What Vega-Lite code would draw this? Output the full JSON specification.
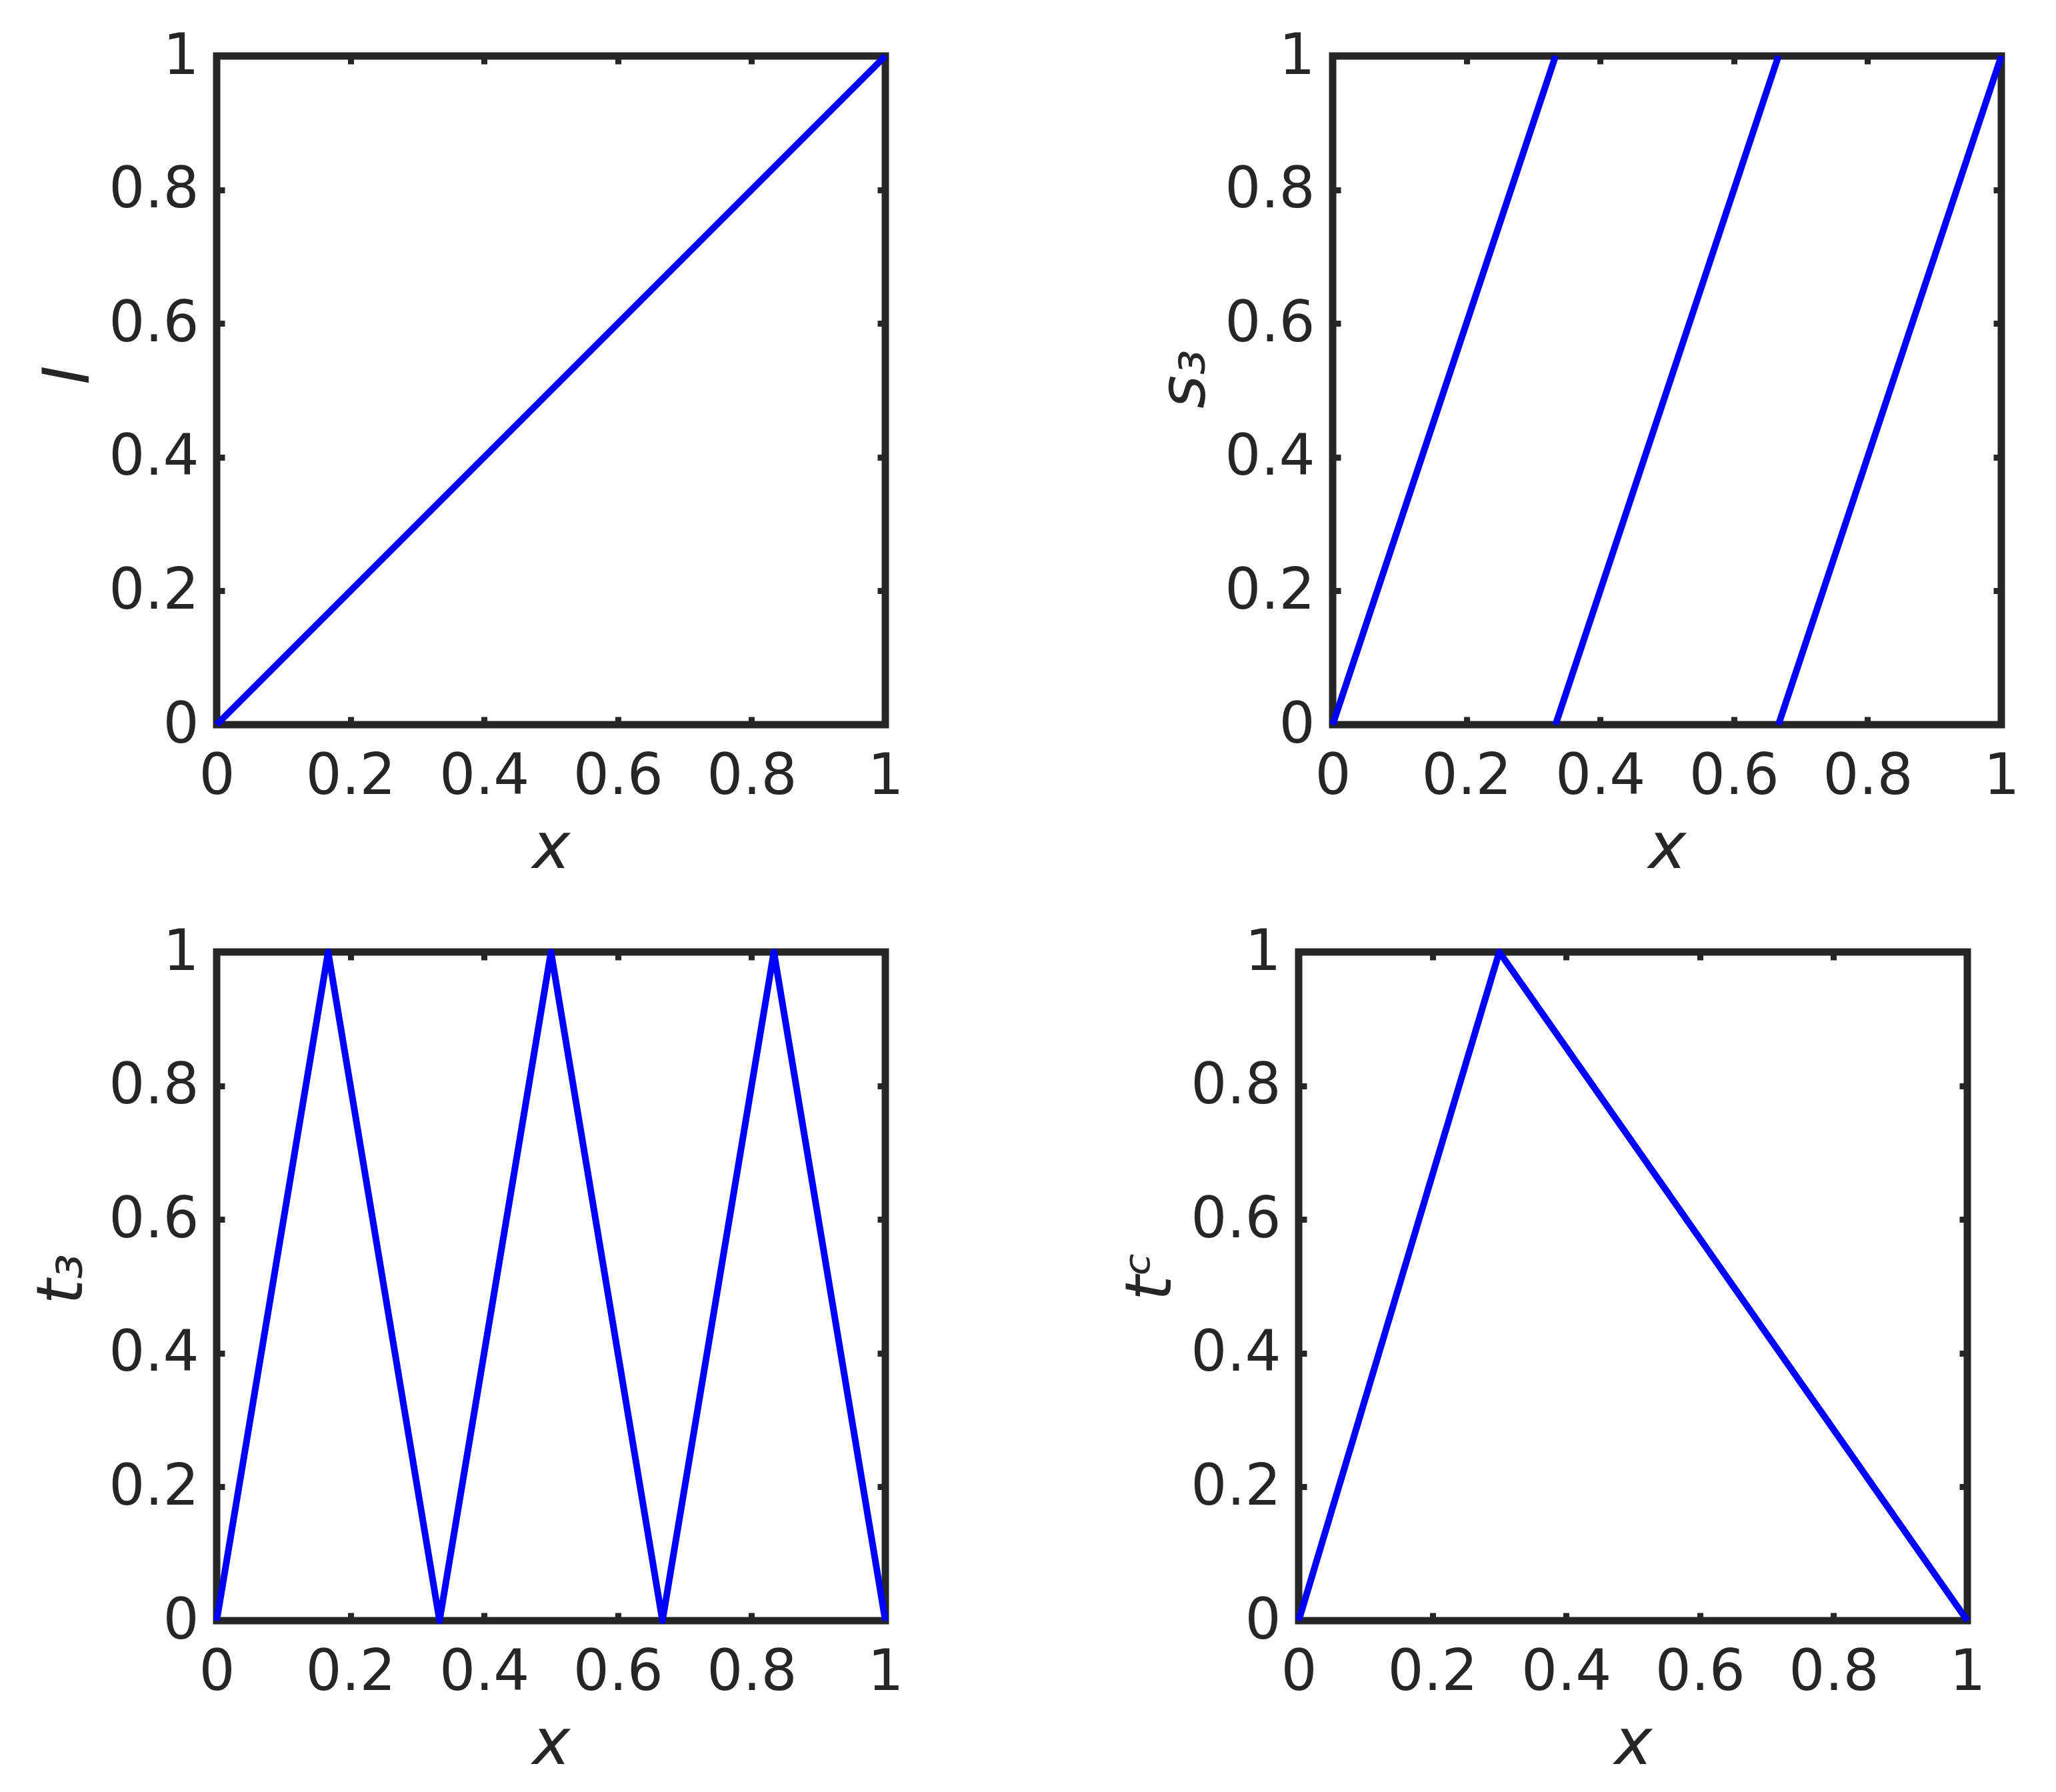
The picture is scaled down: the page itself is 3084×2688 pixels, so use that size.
{
  "$schema": "https://vega.github.io/schema/vega-lite/v6.json",
  "background": "white",
  "autosize": {"type": "pad"},
  "padding": {"left": 40, "top": 36, "right": 20, "bottom": 20},
  "datasets": {
    "identity": [{"x": 0, "y": 0, "seg": "a"}, {"x": 1, "y": 1, "seg": "a"}],
    "saw": [
      {"x": 0, "y": 0, "seg": "a"}, {"x": 0.3333, "y": 1, "seg": "a"},
      {"x": 0.3333, "y": 0, "seg": "b"}, {"x": 0.6667, "y": 1, "seg": "b"},
      {"x": 0.6667, "y": 0, "seg": "c"}, {"x": 1, "y": 1, "seg": "c"}
    ],
    "tent3": [
      {"x": 0, "y": 0, "seg": "a"}, {"x": 0.1667, "y": 1, "seg": "a"},
      {"x": 0.3333, "y": 0, "seg": "a"}, {"x": 0.5, "y": 1, "seg": "a"},
      {"x": 0.6667, "y": 0, "seg": "a"}, {"x": 0.8333, "y": 1, "seg": "a"},
      {"x": 1, "y": 0, "seg": "a"}
    ],
    "tentc": [
      {"x": 0, "y": 0, "seg": "a"}, {"x": 0.3, "y": 1, "seg": "a"}, {"x": 1, "y": 0, "seg": "a"}
    ]
  },
  "config": {
    "font": "DejaVu Sans",
    "view": {"stroke": "#262626", "strokeWidth": 11},
    "axis": {
      "grid": false,
      "domain": false,
      "labelFont": "DejaVu Sans",
      "labelFontSize": 85,
      "labelColor": "#262626",
      "labelFlush": false,
      "labelOverlap": false,
      "tickColor": "#262626",
      "tickWidth": 9,
      "tickSize": -12,
      "titleFont": "DejaVu Sans",
      "titleFontSize": 96,
      "titleFontStyle": "italic",
      "titleFontWeight": "normal",
      "titleColor": "#262626"
    },
    "axisX": {"labelPadding": 48, "titlePadding": 18},
    "axisY": {"labelPadding": 39, "titlePadding": 10},
    "line": {"color": "#0000ff", "strokeWidth": 10, "strokeJoin": "round"}
  },
  "columns": 1,
  "align": "none",
  "spacing": 54,
  "concat": [
    {
      "spacing": 363,
      "hconcat": [
        {
          "width": 1003, "height": 1003,
          "data": {"name": "identity"},
          "resolve": {"axis": {"x": "independent", "y": "independent"}},
          "layer": [
            {
              "mark": "line",
              "encoding": {
                "x": {"field": "x", "type": "quantitative", "scale": {"domain": [0, 1], "nice": false}, "axis": {"orient": "bottom", "title": "x", "values": [0, 0.2, 0.4, 0.6, 0.8, 1], "format": "~g"}},
                "y": {"field": "y", "type": "quantitative", "scale": {"domain": [0, 1], "nice": false}, "axis": {"orient": "left", "title": "I", "titleY": 478, "values": [0, 0.2, 0.4, 0.6, 0.8, 1], "format": "~g"}},
                "detail": {"field": "seg"}
              }
            },
            {
              "mark": {"type": "line", "opacity": 0},
              "encoding": {
                "x": {"field": "x", "type": "quantitative", "axis": {"orient": "top", "title": null, "labels": false, "values": [0, 0.2, 0.4, 0.6, 0.8, 1]}},
                "y": {"field": "y", "type": "quantitative", "axis": {"orient": "right", "title": null, "labels": false, "values": [0, 0.2, 0.4, 0.6, 0.8, 1]}},
                "detail": {"field": "seg"}
              }
            }
          ]
        },
        {
          "width": 1003, "height": 1003,
          "data": {"name": "saw"},
          "resolve": {"axis": {"x": "independent", "y": "independent"}},
          "layer": [
            {
              "mark": "line",
              "encoding": {
                "x": {"field": "x", "type": "quantitative", "scale": {"domain": [0, 1], "nice": false}, "axis": {"orient": "bottom", "title": "x", "values": [0, 0.2, 0.4, 0.6, 0.8, 1], "format": "~g"}},
                "y": {"field": "y", "type": "quantitative", "scale": {"domain": [0, 1], "nice": false}, "axis": {"orient": "left", "title": "s₃", "titleY": 484, "values": [0, 0.2, 0.4, 0.6, 0.8, 1], "format": "~g"}},
                "detail": {"field": "seg"}
              }
            },
            {
              "mark": {"type": "line", "opacity": 0},
              "encoding": {
                "x": {"field": "x", "type": "quantitative", "axis": {"orient": "top", "title": null, "labels": false, "values": [0, 0.2, 0.4, 0.6, 0.8, 1]}},
                "y": {"field": "y", "type": "quantitative", "axis": {"orient": "right", "title": null, "labels": false, "values": [0, 0.2, 0.4, 0.6, 0.8, 1]}},
                "detail": {"field": "seg"}
              }
            }
          ]
        }
      ]
    },
    {
      "spacing": 312,
      "hconcat": [
        {
          "width": 1003, "height": 1003,
          "data": {"name": "tent3"},
          "resolve": {"axis": {"x": "independent", "y": "independent"}},
          "layer": [
            {
              "mark": "line",
              "encoding": {
                "x": {"field": "x", "type": "quantitative", "scale": {"domain": [0, 1], "nice": false}, "axis": {"orient": "bottom", "title": "x", "values": [0, 0.2, 0.4, 0.6, 0.8, 1], "format": "~g"}},
                "y": {"field": "y", "type": "quantitative", "scale": {"domain": [0, 1], "nice": false}, "axis": {"orient": "left", "title": "t₃", "titleY": 490, "titlePadding": 20, "values": [0, 0.2, 0.4, 0.6, 0.8, 1], "format": "~g"}},
                "detail": {"field": "seg"}
              }
            },
            {
              "mark": {"type": "line", "opacity": 0},
              "encoding": {
                "x": {"field": "x", "type": "quantitative", "axis": {"orient": "top", "title": null, "labels": false, "values": [0, 0.2, 0.4, 0.6, 0.8, 1]}},
                "y": {"field": "y", "type": "quantitative", "axis": {"orient": "right", "title": null, "labels": false, "values": [0, 0.2, 0.4, 0.6, 0.8, 1]}},
                "detail": {"field": "seg"}
              }
            }
          ]
        },
        {
          "width": 1003, "height": 1003,
          "data": {"name": "tentc"},
          "resolve": {"axis": {"x": "independent", "y": "independent"}},
          "layer": [
            {
              "mark": "line",
              "encoding": {
                "x": {"field": "x", "type": "quantitative", "scale": {"domain": [0, 1], "nice": false}, "axis": {"orient": "bottom", "title": "x", "values": [0, 0.2, 0.4, 0.6, 0.8, 1], "format": "~g"}},
                "y": {"field": "y", "type": "quantitative", "scale": {"domain": [0, 1], "nice": false}, "axis": {"orient": "left", "title": "tᶜ", "titleY": 486, "values": [0, 0.2, 0.4, 0.6, 0.8, 1], "format": "~g"}},
                "detail": {"field": "seg"}
              }
            },
            {
              "mark": {"type": "line", "opacity": 0},
              "encoding": {
                "x": {"field": "x", "type": "quantitative", "axis": {"orient": "top", "title": null, "labels": false, "values": [0, 0.2, 0.4, 0.6, 0.8, 1]}},
                "y": {"field": "y", "type": "quantitative", "axis": {"orient": "right", "title": null, "labels": false, "values": [0, 0.2, 0.4, 0.6, 0.8, 1]}},
                "detail": {"field": "seg"}
              }
            }
          ]
        }
      ]
    }
  ]
}
